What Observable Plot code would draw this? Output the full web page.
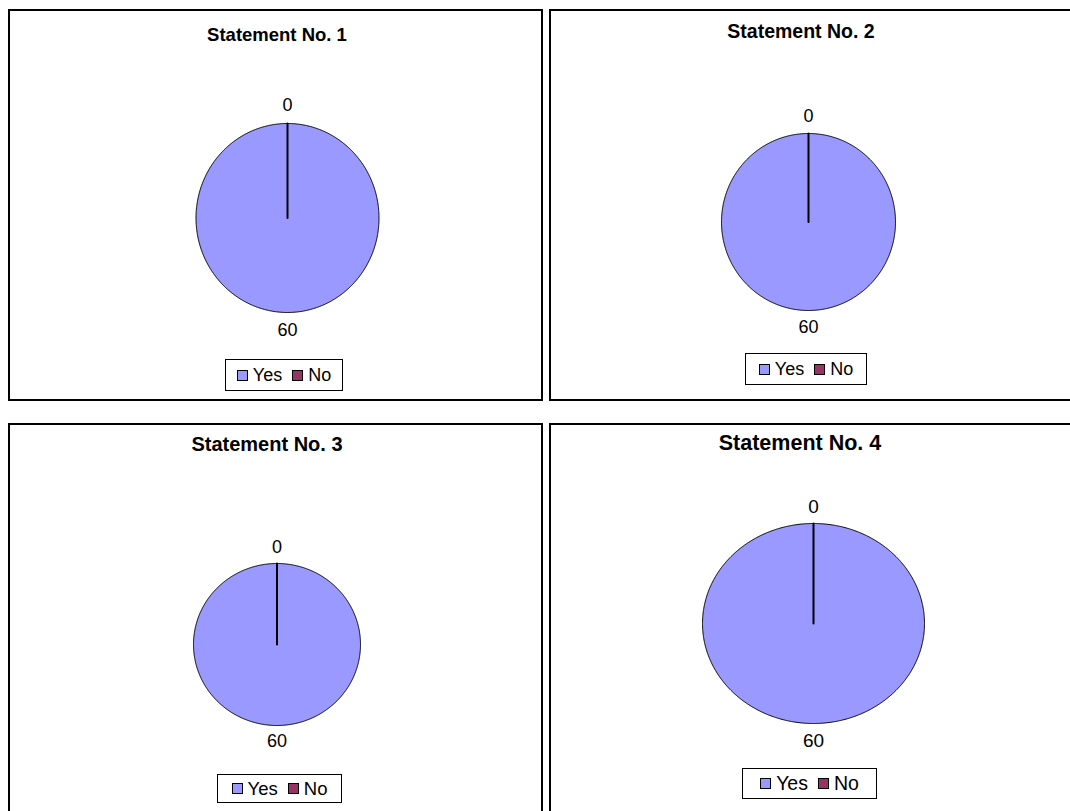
<!DOCTYPE html>
<html>
<head>
<meta charset="utf-8">
<script src="https://cdn.jsdelivr.net/npm/d3@7"></script>
<script src="https://cdn.jsdelivr.net/npm/@observablehq/plot@0.6"></script>
<style>
  body { margin: 0; background: #fff; font-family: Arial, "Liberation Sans", sans-serif; }
  #page { position: relative; width: 1070px; height: 811px; overflow: hidden; background: #fff; }
  .panel { position: absolute; border: 2px solid #000; box-sizing: border-box; }
  .title { position: absolute; font-weight: bold; transform: translate(-50%, -50%); white-space: nowrap; color: #000; }
  .legend { position: absolute; border: 1px solid #000; box-sizing: border-box; display: flex; align-items: center; justify-content: center; background: #fff; color: #000; }
  .legend .item { display: flex; align-items: center; margin: 0 5px; }
  .legend .sw { width: 11px; height: 11px; border: 1px solid #000; box-sizing: border-box; margin-right: 5px; }
  .chart { position: absolute; left: 0; top: 0; pointer-events: none; }
</style>
</head>
<body>
<div id="page"></div>
<script>
// ---- data ----
const statements = ["Statement No. 1", "Statement No. 2", "Statement No. 3", "Statement No. 4"];
const categories = ["Yes", "No"];
const yesCounts = [60, 60, 60, 60];
const noCounts = [0, 0, 0, 0];
const sliceColors = ["#9999FF", "#993366"];

// ---- layout (pixel positions of each panel) ----
const layout = [
  { left: 8,   top: 9,   w: 535, h: 392, cx: 287, cy: 217.5, rx: 91.5, ry: 94.5, tx: 277, ty: 35,  tSize: 18.5, lSize: 18, gap: 18, lg: [225, 343, 359, 391], lgSize: 18 },
  { left: 549, top: 9,   w: 530, h: 392, cx: 808, cy: 221.5, rx: 87,   ry: 88.5, tx: 801, ty: 30.5, tSize: 19.5, lSize: 18, gap: 17, lg: [745, 867, 353, 385], lgSize: 18 },
  { left: 8,   top: 423, w: 535, h: 400, cx: 276.5, cy: 644, rx: 83.5, ry: 81,  tx: 267, ty: 444, tSize: 20,   lSize: 18, gap: 16, lg: [217, 342, 774, 803], lgSize: 18.5 },
  { left: 549, top: 423, w: 530, h: 400, cx: 813, cy: 623,  rx: 111,  ry: 100,  tx: 800, ty: 443, tSize: 21.5, lSize: 19, gap: 17, lg: [742, 877, 768, 799], lgSize: 19.5 }
];

const page = document.getElementById("page");

statements.forEach((title, i) => {
  const L = layout[i];
  const values = [yesCounts[i], noCounts[i]];

  // panel border
  const panel = document.createElement("div");
  panel.className = "panel";
  Object.assign(panel.style, { left: L.left + "px", top: L.top + "px", width: L.w + "px", height: L.h + "px" });
  page.appendChild(panel);

  // title
  const t = document.createElement("div");
  t.className = "title";
  t.textContent = title;
  Object.assign(t.style, { left: L.tx + "px", top: L.ty + "px", fontSize: L.tSize + "px" });
  page.appendChild(t);

  // pie slices from d3.pie (clockwise from 12 o'clock)
  const arcs = d3.pie().sort(null).startAngle(0).endAngle(2 * Math.PI)(values);
  const slices = arcs.map((a, k) => {
    const n = Math.max(1, Math.ceil((a.endAngle - a.startAngle) / (2 * Math.PI) * 720));
    const pts = [{ x: 0, y: 0, cat: categories[k] }];
    for (let j = 0; j <= n; j++) {
      const ang = a.startAngle + (a.endAngle - a.startAngle) * j / n;
      pts.push({ x: Math.sin(ang), y: Math.cos(ang), cat: categories[k] });
    }
    pts.push({ x: 0, y: 0, cat: categories[k] });
    return { cat: categories[k], value: a.value, pts, mid: (a.startAngle + a.endAngle) / 2 };
  });

  const labels = slices.map(s => ({
    label: String(s.value),
    x: Math.sin(s.mid) * (1 + L.gap / L.rx),
    y: Math.cos(s.mid) * (1 + L.gap / L.ry)
  }));

  const chart = Plot.plot({
    width: 1070,
    height: 811,
    margin: 0,
    style: { background: "transparent", overflow: "visible" },
    x: { domain: [-1, 1], range: [L.cx - L.rx, L.cx + L.rx], axis: null },
    y: { domain: [-1, 1], range: [L.cy + L.ry, L.cy - L.ry], axis: null },
    marks: [
      ...slices.map((s, k) => Plot.line(s.pts, {
        x: "x", y: "y",
        fill: sliceColors[k],
        stroke: "#000",
        strokeWidth: s.value === 0 ? 2 : 1,
        curve: "linear"
      })),
      Plot.text(labels, {
        x: "x", y: "y", text: "label",
        fontSize: L.lSize,
        fontFamily: "Arial, 'Liberation Sans', sans-serif",
        fill: "#000",
        textAnchor: "middle",
        lineAnchor: "middle"
      })
    ]
  });
  chart.classList.add("chart");
  page.appendChild(chart);

  // legend
  const lg = document.createElement("div");
  lg.className = "legend";
  Object.assign(lg.style, {
    left: L.lg[0] + "px", top: L.lg[2] + "px",
    width: (L.lg[1] - L.lg[0]) + "px", height: (L.lg[3] - L.lg[2]) + "px",
    fontSize: L.lgSize + "px"
  });
  categories.forEach((c, k) => {
    const item = document.createElement("div");
    item.className = "item";
    const sw = document.createElement("div");
    sw.className = "sw";
    sw.style.background = sliceColors[k];
    const lab = document.createElement("span");
    lab.textContent = c;
    item.appendChild(sw);
    item.appendChild(lab);
    lg.appendChild(item);
  });
  page.appendChild(lg);
});
</script>
</body>
</html>
